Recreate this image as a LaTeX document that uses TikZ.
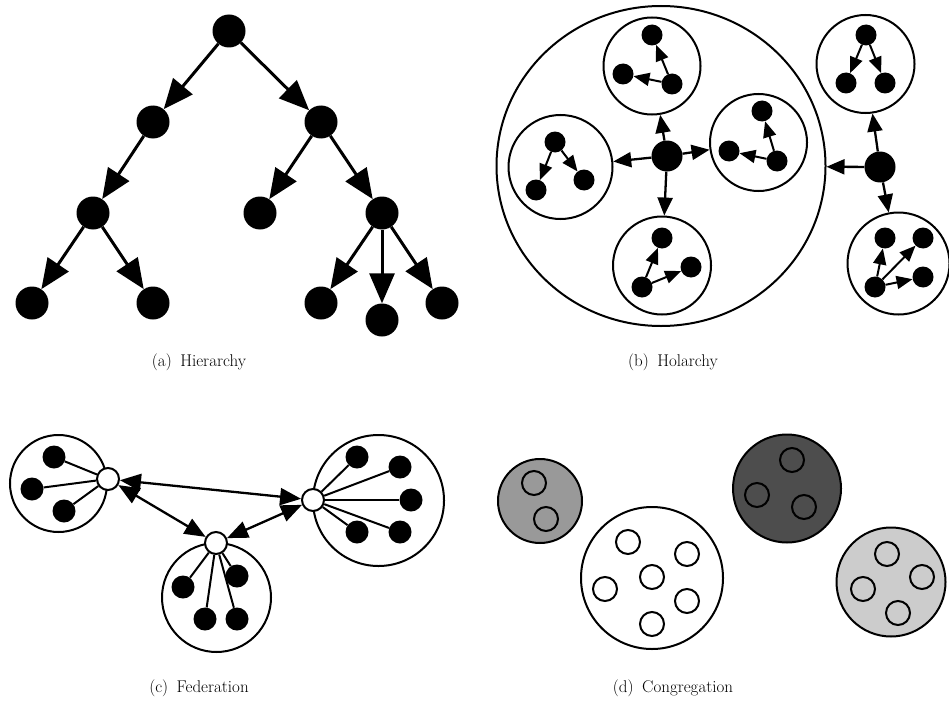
\documentclass[tikz,border=0pt]{standalone}
\usepackage{fontspec}
\setmainfont{Latin Modern Roman}
\usetikzlibrary{arrows.meta,shapes.geometric}
\definecolor{midgray}{HTML}{999999}
\definecolor{darkgray}{HTML}{4D4D4D}
\definecolor{lightgray}{HTML}{CCCCCC}
\begin{document}
\begin{tikzpicture}[x=1pt,y=-1pt,
  bigdot/.style={circle,fill=black,inner sep=0pt,minimum size=33pt},
  hdot/.style={circle,fill=black,inner sep=0pt,minimum size=31pt},
  smalldot/.style={circle,fill=black,inner sep=0pt,minimum size=21pt},
  fdot/.style={circle,fill=black,inner sep=0pt,minimum size=23pt},
  hub/.style={circle,draw,fill=white,line width=2pt,inner sep=0pt,minimum size=22pt},
  group/.style={circle,draw,line width=2pt,inner sep=0pt},
  ring/.style={circle,draw,line width=2pt,inner sep=0pt,minimum size=24pt},
  treearrow/.style={line width=3pt,-{Triangle[length=30pt,width=25pt]}},
  holarrow/.style={line width=2.3pt,-{Triangle[length=18pt,width=15pt]}},
  innerarrow/.style={line width=2pt,-{Triangle[length=16pt,width=13pt]}},
  fedlink/.style={line width=2.3pt,{Triangle[length=21pt,width=17pt]}-{Triangle[length=21pt,width=17pt]}},
  spoke/.style={line width=2pt},
  caption/.style={font=\fontsize{17}{20}\selectfont}]
\useasboundingbox (0,0) rectangle (949,706);

% ---------- (a) Hierarchy ----------
\node[bigdot] (r)   at (229,31) {};
\node[bigdot] (a1)  at (153,122) {};
\node[bigdot] (a2)  at (321,122) {};
\node[bigdot] (b1)  at (93,213) {};
\node[bigdot] (b2)  at (260,213) {};
\node[bigdot] (b3)  at (382,213) {};
\node[bigdot] (c1)  at (32,303) {};
\node[bigdot] (c2)  at (153,303) {};
\node[bigdot] (c3)  at (321,303) {};
\node[bigdot] (c4)  at (382,320) {};
\node[bigdot] (c5)  at (442,303) {};
\draw[treearrow] (r) -- (a1);
\draw[treearrow] (r) -- (a2);
\draw[treearrow] (a1) -- (b1);
\draw[treearrow] (a2) -- (b2);
\draw[treearrow] (a2) -- (b3);
\draw[treearrow] (b1) -- (c1);
\draw[treearrow] (b1) -- (c2);
\draw[treearrow] (b3) -- (c3);
\draw[treearrow] (b3) -- (c4);
\draw[treearrow] (b3) -- (c5);
\node[caption] (capa) at (199,362) {(a)\enspace Hierarchy};

% ---------- (b) Holarchy ----------
\node[draw,ellipse,line width=2pt,inner sep=0pt,minimum width=329pt,minimum height=320pt] (big) at (661,166) {};
\node[hdot] (hc) at (667,156) {};
% top holon
\node[group,minimum size=97pt] (gt) at (652,66) {};
\node[smalldot] (gt1) at (652,35) {};
\node[smalldot] (gt2) at (623,74) {};
\node[smalldot] (gt3) at (672,84) {};
\draw[innerarrow] (gt3) -- (gt1);
\draw[innerarrow] (gt3) -- (gt2);
% right holon
\node[group,minimum size=97pt] (gr) at (758.5,142.5) {};
\node[smalldot] (gr1) at (762,111) {};
\node[smalldot] (gr2) at (729,151) {};
\node[smalldot] (gr3) at (777,161) {};
\draw[innerarrow] (gr3) -- (gr1);
\draw[innerarrow] (gr3) -- (gr2);
% left holon
\node[group,minimum size=104pt] (gl) at (560.5,167) {};
\node[smalldot] (gl1) at (555,142) {};
\node[smalldot] (gl2) at (536,190) {};
\node[smalldot] (gl3) at (584,180) {};
\draw[innerarrow] (gl1) -- (gl2);
\draw[innerarrow] (gl1) -- (gl3);
% bottom holon
\node[group,minimum size=98pt] (gb) at (662,265.5) {};
\node[smalldot] (gb1) at (662,238) {};
\node[smalldot] (gb2) at (642,287) {};
\node[smalldot] (gb3) at (691,267) {};
\draw[innerarrow] (gb2) -- (gb1);
\draw[innerarrow] (gb2) -- (gb3);
\draw[holarrow] (hc) -- (gt);
\draw[holarrow] (hc) -- (gl);
\draw[holarrow] (hc) -- (gr);
\draw[holarrow] (hc) -- (gb);
% outer node
\node[hdot] (ho) at (880,167) {};
\node[group,minimum size=98pt] (go) at (865.5,64) {};
\node[smalldot] (go1) at (866,35) {};
\node[smalldot] (go2) at (846,83) {};
\node[smalldot] (go3) at (885,83) {};
\draw[innerarrow] (go1) -- (go2);
\draw[innerarrow] (go1) -- (go3);
\node[group,minimum size=102pt] (gq) at (898.5,263.5) {};
\node[smalldot] (gq1) at (885,238) {};
\node[smalldot] (gq2) at (923,238) {};
\node[smalldot] (gq3) at (923,277) {};
\node[smalldot] (gq4) at (875,287) {};
\draw[innerarrow] (gq4) -- (gq1);
\draw[innerarrow] (gq4) -- (gq2);
\draw[innerarrow] (gq4) -- (gq3);
\draw[holarrow] (ho) -- (big);
\draw[holarrow] (ho) -- (go);
\draw[holarrow] (ho) -- (gq);
\node[caption] (capb) at (673,362) {(b)\enspace Holarchy};

% ---------- (c) Federation ----------
\node[group,minimum size=97pt]  (fl) at (58.5,483.5) {};
\node[group,minimum size=131pt] (fr) at (378.5,500.5) {};
\node[group,minimum size=109pt] (fb) at (216.5,597.5) {};
\node[fdot] (fl1) at (54,457) {};
\node[fdot] (fl2) at (32,489) {};
\node[fdot] (fl3) at (64,511) {};
\node[fdot] (fr1) at (357,457) {};
\node[fdot] (fr2) at (400,467) {};
\node[fdot] (fr3) at (411,500) {};
\node[fdot] (fr4) at (357,532) {};
\node[fdot] (fr5) at (400,532) {};
\node[fdot] (fb1) at (183,587) {};
\node[fdot] (fb2) at (237,576) {};
\node[fdot] (fb3) at (205,619) {};
\node[fdot] (fb4) at (237,619) {};
\node[hub] (hl) at (108,479) {};
\node[hub] (hr) at (313,500) {};
\node[hub] (hb) at (216,543) {};
\foreach \n in {fl1,fl2,fl3} \draw[spoke] (hl) -- (\n);
\foreach \n in {fr1,fr2,fr3,fr4,fr5} \draw[spoke] (hr) -- (\n);
\foreach \n in {fb1,fb2,fb3,fb4} \draw[spoke] (hb) -- (\n);
\draw[fedlink] (hl) -- (hr);
\draw[fedlink] (hl) -- (hb);
\draw[fedlink] (hb) -- (hr);
\node[caption] (capc) at (199,688) {(c)\enspace Federation};

% ---------- (d) Congregation ----------
\node[group,fill=midgray,minimum size=84pt] (k1) at (540,501) {};
\node[ring] (k11) at (534,483) {};
\node[ring] (k12) at (546,519) {};
\node[group,fill=white,minimum size=142pt] (k2) at (652,578) {};
\node[ring] (k21) at (628,542) {};
\node[ring] (k22) at (687,554) {};
\node[ring] (k23) at (652,577) {};
\node[ring] (k24) at (605,589) {};
\node[ring] (k25) at (687,601) {};
\node[ring] (k26) at (652,624) {};
\node[group,fill=darkgray,minimum size=108pt] (k3) at (787,488.5) {};
\node[ring] (k31) at (792,460) {};
\node[ring] (k32) at (757,495) {};
\node[ring] (k33) at (804,507) {};
\node[group,fill=lightgray,minimum size=109pt] (k4) at (891,582) {};
\node[ring] (k41) at (887,554) {};
\node[ring] (k42) at (922,577) {};
\node[ring] (k43) at (863,589) {};
\node[ring] (k44) at (898,613) {};
\node[caption] (capd) at (673,688) {(d)\enspace Congregation};
\end{tikzpicture}
\end{document}
